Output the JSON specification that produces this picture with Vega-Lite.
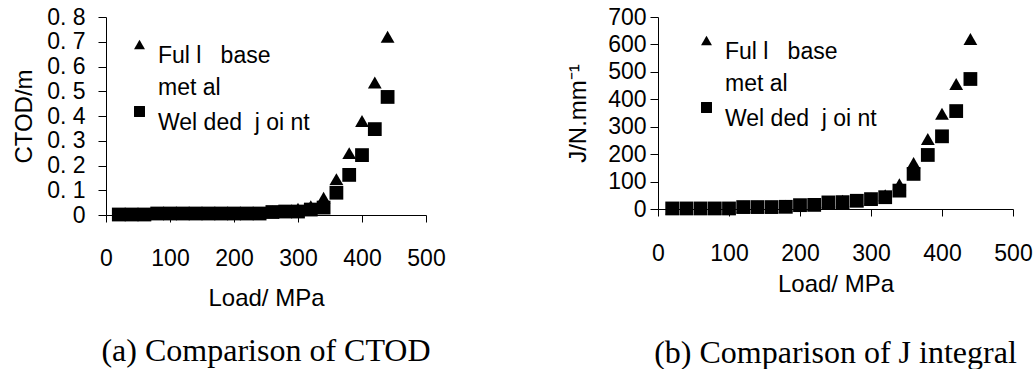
{
  "$schema": "https://vega.github.io/schema/vega-lite/v6.json",
  "padding": {"left": 12, "top": 6, "right": 2, "bottom": 2},
  "background": "white",
  "spacing": 120,
  "datasets": {
    "ctod": [
      {"load": 20, "series": "Full base metal", "value": 0.002},
      {"load": 40, "series": "Full base metal", "value": 0.002},
      {"load": 60, "series": "Full base metal", "value": 0.003},
      {"load": 80, "series": "Full base metal", "value": 0.006},
      {"load": 100, "series": "Full base metal", "value": 0.006},
      {"load": 120, "series": "Full base metal", "value": 0.006},
      {"load": 140, "series": "Full base metal", "value": 0.006},
      {"load": 160, "series": "Full base metal", "value": 0.006},
      {"load": 180, "series": "Full base metal", "value": 0.006},
      {"load": 200, "series": "Full base metal", "value": 0.006},
      {"load": 220, "series": "Full base metal", "value": 0.006},
      {"load": 240, "series": "Full base metal", "value": 0.008},
      {"load": 260, "series": "Full base metal", "value": 0.014},
      {"load": 280, "series": "Full base metal", "value": 0.016},
      {"load": 300, "series": "Full base metal", "value": 0.025},
      {"load": 320, "series": "Full base metal", "value": 0.035},
      {"load": 340, "series": "Full base metal", "value": 0.07},
      {"load": 360, "series": "Full base metal", "value": 0.145},
      {"load": 380, "series": "Full base metal", "value": 0.25},
      {"load": 400, "series": "Full base metal", "value": 0.38},
      {"load": 420, "series": "Full base metal", "value": 0.535},
      {"load": 440, "series": "Full base metal", "value": 0.72},
      {"load": 20, "series": "Welded joint", "value": 0.002},
      {"load": 40, "series": "Welded joint", "value": 0.002},
      {"load": 60, "series": "Welded joint", "value": 0.002},
      {"load": 80, "series": "Welded joint", "value": 0.006},
      {"load": 100, "series": "Welded joint", "value": 0.006},
      {"load": 120, "series": "Welded joint", "value": 0.006},
      {"load": 140, "series": "Welded joint", "value": 0.006},
      {"load": 160, "series": "Welded joint", "value": 0.006},
      {"load": 180, "series": "Welded joint", "value": 0.006},
      {"load": 200, "series": "Welded joint", "value": 0.006},
      {"load": 220, "series": "Welded joint", "value": 0.006},
      {"load": 240, "series": "Welded joint", "value": 0.006},
      {"load": 260, "series": "Welded joint", "value": 0.012},
      {"load": 280, "series": "Welded joint", "value": 0.014},
      {"load": 300, "series": "Welded joint", "value": 0.014},
      {"load": 320, "series": "Welded joint", "value": 0.022},
      {"load": 340, "series": "Welded joint", "value": 0.03},
      {"load": 360, "series": "Welded joint", "value": 0.09},
      {"load": 380, "series": "Welded joint", "value": 0.162},
      {"load": 400, "series": "Welded joint", "value": 0.242},
      {"load": 420, "series": "Welded joint", "value": 0.347},
      {"load": 440, "series": "Welded joint", "value": 0.477}
    ],
    "jint": [
      {"load": 20, "series": "Full base metal", "value": 2},
      {"load": 40, "series": "Full base metal", "value": 2},
      {"load": 60, "series": "Full base metal", "value": 2},
      {"load": 80, "series": "Full base metal", "value": 2},
      {"load": 100, "series": "Full base metal", "value": 2},
      {"load": 120, "series": "Full base metal", "value": 8},
      {"load": 140, "series": "Full base metal", "value": 8},
      {"load": 160, "series": "Full base metal", "value": 8},
      {"load": 180, "series": "Full base metal", "value": 12},
      {"load": 200, "series": "Full base metal", "value": 16},
      {"load": 220, "series": "Full base metal", "value": 16},
      {"load": 240, "series": "Full base metal", "value": 26},
      {"load": 260, "series": "Full base metal", "value": 30},
      {"load": 280, "series": "Full base metal", "value": 32},
      {"load": 300, "series": "Full base metal", "value": 38},
      {"load": 320, "series": "Full base metal", "value": 50},
      {"load": 340, "series": "Full base metal", "value": 90},
      {"load": 360, "series": "Full base metal", "value": 168},
      {"load": 380, "series": "Full base metal", "value": 255},
      {"load": 400, "series": "Full base metal", "value": 347},
      {"load": 420, "series": "Full base metal", "value": 456},
      {"load": 440, "series": "Full base metal", "value": 620},
      {"load": 20, "series": "Welded joint", "value": 2},
      {"load": 40, "series": "Welded joint", "value": 2},
      {"load": 60, "series": "Welded joint", "value": 2},
      {"load": 80, "series": "Welded joint", "value": 2},
      {"load": 100, "series": "Welded joint", "value": 2},
      {"load": 120, "series": "Welded joint", "value": 7},
      {"load": 140, "series": "Welded joint", "value": 7},
      {"load": 160, "series": "Welded joint", "value": 7},
      {"load": 180, "series": "Welded joint", "value": 8},
      {"load": 200, "series": "Welded joint", "value": 14},
      {"load": 220, "series": "Welded joint", "value": 15},
      {"load": 240, "series": "Welded joint", "value": 24},
      {"load": 260, "series": "Welded joint", "value": 25},
      {"load": 280, "series": "Welded joint", "value": 30},
      {"load": 300, "series": "Welded joint", "value": 36},
      {"load": 320, "series": "Welded joint", "value": 43},
      {"load": 340, "series": "Welded joint", "value": 67},
      {"load": 360, "series": "Welded joint", "value": 128},
      {"load": 380, "series": "Welded joint", "value": 197},
      {"load": 400, "series": "Welded joint", "value": 265},
      {"load": 420, "series": "Welded joint", "value": 357},
      {"load": 440, "series": "Welded joint", "value": 474}
    ]
  },
  "config": {
    "view": {"stroke": null},
    "font": "Liberation Sans",
    "style": {"guide-label": {"lineHeight": 32}},
    "axis": {
      "grid": false,
      "domainColor": "black",
      "tickColor": "black",
      "labelColor": "black",
      "titleColor": "black",
      "labelFont": "Liberation Sans",
      "titleFont": "Liberation Sans",
      "labelFontSize": 23,
      "titleFontSize": 24,
      "titleFontWeight": "normal",
      "tickSize": 7,
      "domainWidth": 1,
      "tickWidth": 1
    },
    "legend": {
      "orient": "none",
      "labelFont": "Liberation Sans",
      "labelFontSize": 23,
      "labelColor": "black",
      "labelOffset": 7,
      "labelBaseline": "top",
      "rowPadding": -3,
      "symbolFillColor": "black",
      "symbolStrokeColor": "black",
      "symbolSize": 120,
      "labelLimit": 400
    },
    "title": {
      "font": "Liberation Serif",
      "fontSize": 32,
      "fontWeight": "normal",
      "color": "black"
    }
  },
  "hconcat": [
    {
      "width": 320,
      "height": 198,
      "data": {"name": "ctod"},
      "title": {"text": "(a) Comparison of CTOD", "orient": "bottom", "offset": 26},
      "mark": {"type": "point", "filled": true, "color": "black", "opacity": 1, "size": 190},
      "encoding": {
        "x": {
          "field": "load", "type": "quantitative",
          "scale": {"domain": [0, 500], "nice": false},
          "axis": {"values": [0, 100, 200, 300, 400, 500], "labelPadding": 25, "title": "Load/ MPa", "titlePadding": 16, "labelFlush": false}
        },
        "y": {
          "field": "value", "type": "quantitative",
          "scale": {"domain": [0, 0.8], "nice": false},
          "axis": {
            "values": [0, 0.1, 0.2, 0.3, 0.4, 0.5, 0.6, 0.7, 0.8],
            "labelExpr": "datum.value == 0 ? '0' : replace(format(datum.value, '.1f'), '.', '. ')",
            "labelPadding": 13, "tickSize": 8, "title": "CTOD/m", "titlePadding": 10, "labelFlush": false
          }
        },
        "shape": {
          "field": "series", "type": "nominal",
          "scale": {"domain": ["Full base metal", "Welded joint"], "range": ["triangle-up", "square"]},
          "legend": {
            "title": null, "legendX": 22, "legendY": 16,
            "labelExpr": "datum.label == 'Full base metal' ? ['Ful\u00a0l\u00a0\u00a0\u00a0base', 'met\u00a0al'] : 'Wel\u00a0ded\u00a0\u00a0j\u00a0oi\u00a0nt'"
          }
        }
      }
    },
    {
      "width": 355,
      "height": 192,
      "data": {"name": "jint"},
      "title": {"text": "(b) Comparison of J integral", "orient": "bottom", "offset": 42},
      "mark": {"type": "point", "filled": true, "color": "black", "opacity": 1, "size": 190},
      "encoding": {
        "x": {
          "field": "load", "type": "quantitative",
          "scale": {"domain": [0, 500], "nice": false},
          "axis": {"values": [0, 100, 200, 300, 400, 500], "labelPadding": 26, "title": "Load/ MPa", "titlePadding": 7, "labelFlush": false}
        },
        "y": {
          "field": "value", "type": "quantitative",
          "scale": {"domain": [0, 700], "nice": false},
          "axis": {
            "values": [0, 100, 200, 300, 400, 500, 600, 700],
            "labelPadding": 4, "tickSize": 8, "title": "J/N.mm⁻¹", "titlePadding": 17, "labelFlush": false
          }
        },
        "shape": {
          "field": "series", "type": "nominal",
          "scale": {"domain": ["Full base metal", "Welded joint"], "range": ["triangle-up", "square"]},
          "legend": {
            "title": null, "legendX": 37, "legendY": 12,
            "labelExpr": "datum.label == 'Full base metal' ? ['Ful\u00a0l\u00a0\u00a0\u00a0base', 'met\u00a0al'] : 'Wel\u00a0ded\u00a0\u00a0j\u00a0oi\u00a0nt'"
          }
        }
      }
    }
  ],
  "resolve": {"scale": {"shape": "independent"}, "legend": {"shape": "independent"}}
}
